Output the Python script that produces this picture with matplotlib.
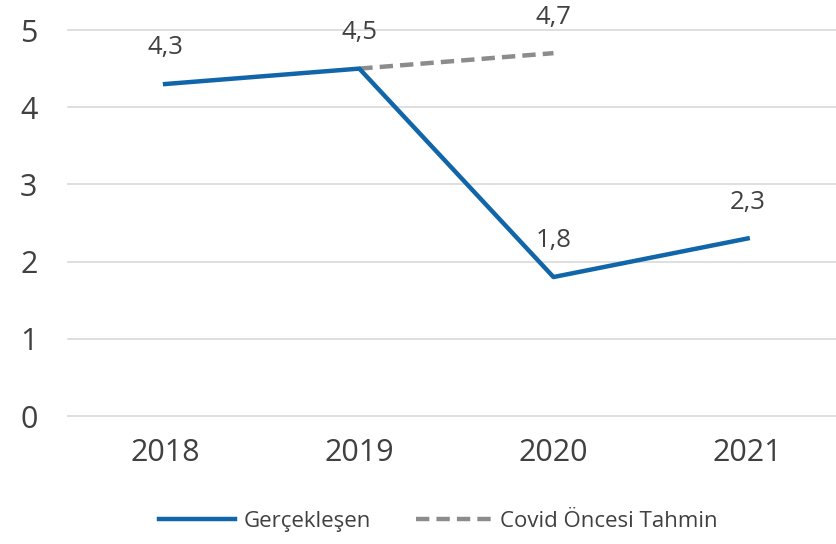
import matplotlib
matplotlib.use("Agg")
import matplotlib.pyplot as plt

years = ["2018", "2019", "2020", "2021"]
actual = [4.3, 4.5, 1.8, 2.3]
forecast_years = ["2019", "2020"]
forecast = [4.5, 4.7]
forecast_labels = [None, 4.7]

plt.rcParams['font.family'] = ['Open Sans', 'DejaVu Sans']

fig = plt.figure(figsize=(8.37, 5.44), dpi=100)
ax = fig.add_axes([68/837, 1-416/544, 1-68/837, (416-30)/544])

xa = list(range(len(years)))
xf = [years.index(y) for y in forecast_years]
ax.plot(xa, actual, color="#1066A8", lw=3.2, label="Gerçekleşen", zorder=3)
ax.plot(xf, forecast, color="#8C8C8C", lw=3.2, ls=(0, (3, 1.6)), label="Covid Öncesi Tahmin", zorder=2)

for x, v in zip(xa, actual):
    ax.annotate(f"{v:.1f}".replace(".", ","), (x, v), xytext=(0, 17), textcoords="offset points",
                ha="center", va="bottom", fontsize=18.5, color="#404040")
for x, v in zip(xf, forecast_labels):
    if v is not None:
        ax.annotate(f"{v:.1f}".replace(".", ","), (x, v), xytext=(0, 17), textcoords="offset points",
                    ha="center", va="bottom", fontsize=18.5, color="#404040")

ax.set_ylim(0, 5)
ax.set_xlim(-0.5, 3.46)
ax.set_yticks(range(6))
ax.set_xticks(xa)
ax.set_xticklabels(years)
ax.tick_params(axis="both", length=0, labelsize=22, colors="#404040")
ax.tick_params(axis="y", pad=22)
ax.tick_params(axis="x", pad=16)
ax.grid(axis="y", color="#D9D9D9", lw=1.2)
for gl in ax.get_ygridlines():
    gl.set_clip_on(False)
ax.set_axisbelow(True)
for s in ax.spines.values():
    s.set_visible(False)

fig.legend(loc="lower center", bbox_to_anchor=(0.524, -0.014), ncol=2, frameon=False,
           fontsize=16, handlelength=3.4, handletextpad=0.4, columnspacing=2.0, labelcolor="#404040")

fig.savefig("out.png", dpi=100)
